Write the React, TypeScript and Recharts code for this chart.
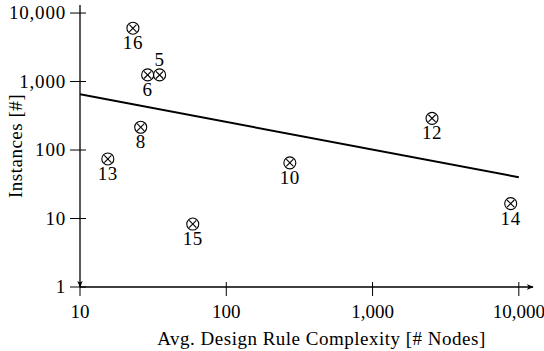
import React from "react"
import { ScatterChart, Scatter, XAxis, YAxis } from "recharts"

// design rule samples: id, avg complexity (# nodes), instances
const ids = [16, 6, 5, 8, 13, 15, 10, 12, 14]
const complexity = [23, 29, 35, 26, 15.5, 59, 272, 2550, 8800]
const instances = [6000, 1250, 1250, 215, 74, 8.3, 65, 290, 16.5]
const labelAbove = [5]

// fitted trend line end points
const fitX = [10, 10000]
const fitY = [650, 40]

const xTicks = [10, 100, 1000, 10000]
const yTicks = [1, 10, 100, 1000, 10000]

const points = ids.map((id, i) => ({ id, x: complexity[i], y: instances[i] }))
const fit = fitX.map((x, i) => ({ x, y: fitY[i] }))

const FONT = "'Liberation Serif', 'DejaVu Serif', serif"
const fmt = (v: number) => v.toLocaleString("en-US")

const Marker = (props: any) => {
  const { cx, cy, payload } = props
  const r = 6
  const d = r * 0.6
  const above = labelAbove.includes(payload.id)
  return (
    <g>
      <circle cx={cx} cy={cy} r={r} fill="none" stroke="#000" strokeWidth={1.1} />
      <line x1={cx - d} y1={cy - d} x2={cx + d} y2={cy + d} stroke="#000" strokeWidth={1.1} />
      <line x1={cx - d} y1={cy + d} x2={cx + d} y2={cy - d} stroke="#000" strokeWidth={1.1} />
      <text
        x={cx}
        y={above ? cy - 9 : cy + 21}
        textAnchor="middle"
        fontFamily={FONT}
        fontSize={19}
        letterSpacing={0.6}
        fill="#000"
      >
        {payload.id}
      </text>
    </g>
  )
}

const XTick = (props: any) => {
  const { x, y, payload } = props
  // y is label position; axis line sits tickSize above it
  const ay = y - 8
  // keep the last label inside the picture
  const tx = Math.min(x, 519)
  return (
    <g>
      <line x1={x} y1={ay - 7} x2={x} y2={ay + 7} stroke="#000" strokeWidth={1} />
      <text x={tx} y={ay + 29} textAnchor="middle" fontFamily={FONT} fontSize={19} fill="#000">
        {fmt(payload.value)}
      </text>
    </g>
  )
}

const YTick = (props: any) => {
  const { x, y, payload } = props
  const ax = x + 8
  return (
    <g>
      <line x1={ax - 8} y1={y} x2={ax + 8} y2={y} stroke="#000" strokeWidth={1} />
      <text x={ax - 12} y={y + 6} textAnchor="end" fontFamily={FONT} fontSize={19} letterSpacing={0.8} fill="#000">
        {fmt(payload.value)}
      </text>
    </g>
  )
}

export default function App() {
  return (
    <div style={{ position: "absolute", left: 0, top: 0, width: 544, height: 351, background: "#fff" }}>
      <svg width={0} height={0} style={{ position: "absolute" }}>
        <defs>
          <marker id="arrowHead" viewBox="0 0 10 10" refX="8" refY="5" markerWidth="6" markerHeight="6" orient="auto">
            <path d="M0,1.5 L9,5 L0,8.5 L2.5,5 Z" fill="#000" />
          </marker>
        </defs>
      </svg>
      <ScatterChart width={544} height={351} margin={{ top: 5, right: 11, left: 0, bottom: 0 }}>
        <XAxis
          type="number"
          dataKey="x"
          scale="log"
          domain={[10, 12500]}
          ticks={xTicks}
          allowDataOverflow
          height={64}
          tickSize={8}
          tickLine={false}
          tick={<XTick />}
          axisLine={{ stroke: "#000", strokeWidth: 1.3, markerEnd: "url(#arrowHead)" }}
          label={{
            value: "Avg. Design Rule Complexity [# Nodes]",
            position: "insideBottom",
            offset: 6,
            dx: 15,
            style: { fontFamily: FONT, fontSize: 19, letterSpacing: 0.5, fill: "#000" },
          }}
        />
        <YAxis
          type="number"
          dataKey="y"
          scale="log"
          domain={[1, 13100]}
          ticks={yTicks}
          allowDataOverflow
          width={80}
          tickSize={8}
          tickLine={false}
          tick={<YTick />}
          axisLine={{ stroke: "#000", strokeWidth: 1.3, markerEnd: "url(#arrowHead)" }}
          label={{
            value: "Instances [#]",
            angle: -90,
            position: "insideLeft",
            offset: 15,
            style: { fontFamily: FONT, fontSize: 19, letterSpacing: 0.5, fill: "#000", textAnchor: "middle" },
          }}
        />
        <Scatter
          data={fit}
          line={{ stroke: "#000", strokeWidth: 2 }}
          shape={() => null}
          isAnimationActive={false}
        />
        <Scatter data={points} shape={<Marker />} isAnimationActive={false} />
      </ScatterChart>
    </div>
  )
}
